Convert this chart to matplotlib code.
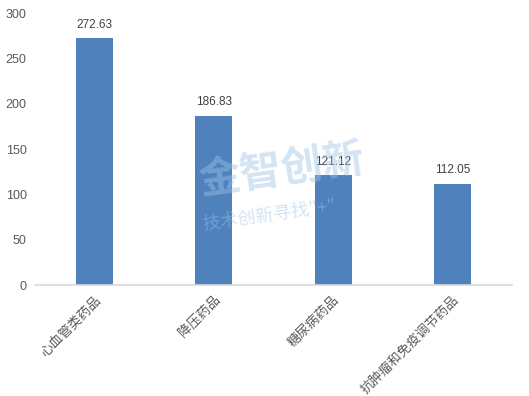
import matplotlib
matplotlib.use("Agg")
import matplotlib.pyplot as plt

plt.rcParams['font.family'] = ['Noto Sans CJK SC', 'DejaVu Sans']

categories = ["心血管类药品", "降压药品", "糖尿病药品", "抗肿瘤和免疫调节药品"]
values = [272.63, 186.83, 121.12, 112.05]
yticks = [0, 50, 100, 150, 200, 250, 300]

fig = plt.figure(figsize=(5.29, 3.96), dpi=100)
ax = fig.add_axes([0.066, 0.280, 0.902, 0.687])
x = range(len(categories))
bars = ax.bar(x, values, width=0.31, color="#4F81BD")
for xi, v in zip(x, values):
    ax.text(xi, v + 8, f"{v:.2f}", ha="center", va="bottom", fontsize=8.5,
            color="#404040", family=["Liberation Sans", "DejaVu Sans"])

ax.set_xlim(-0.5, len(categories) - 0.5)
ax.set_ylim(0, 300)
ax.set_yticks(yticks)
ax.set_yticklabels([str(t) for t in yticks], fontsize=9, color="#595959",
                   family=["Liberation Sans", "DejaVu Sans"])
ax.set_xticks(list(x))
ax.set_xticklabels(categories, rotation=45, ha="right", rotation_mode="anchor",
                   fontsize=9.5, color="#595959")
ax.tick_params(axis="both", length=0)
ax.tick_params(axis="y", pad=6)
ax.tick_params(axis="x", pad=6)
for s in ["top", "right", "left"]:
    ax.spines[s].set_visible(False)
ax.spines["bottom"].set_color("#D9D9D9")
ax.spines["bottom"].set_linewidth(1.2)

# watermark
fig.text(0.37, 0.51, "金智创新", fontsize=30, color="#9DC3E6", alpha=0.45,
         rotation=8, fontweight="bold")
fig.text(0.38, 0.42, "技术创新寻找\"+\"", fontsize=13, color="#9DC3E6", alpha=0.45,
         rotation=8)

fig.savefig("out.png", dpi=100)
